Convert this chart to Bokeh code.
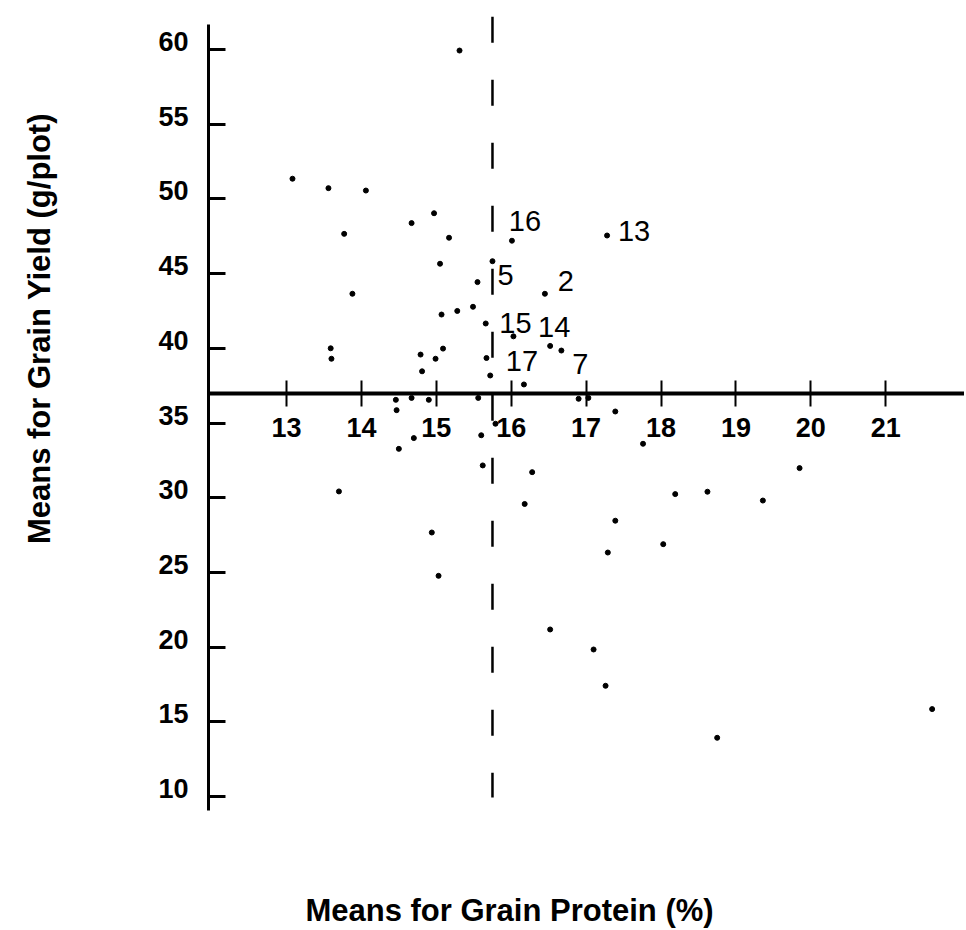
import math
from bokeh.plotting import figure
from bokeh.models import LinearAxis, FixedTicker, Range1d, Label, ColumnDataSource
from bokeh.embed import file_html
from bokeh.resources import INLINE
from bokeh.core.properties import value

# ---------------- data ----------------
protein = [15.31, 13.08, 13.56, 14.06, 14.97, 14.67, 13.77, 15.17, 16.01, 17.28,
           15.05, 15.75, 15.55, 13.88, 16.45, 15.07, 15.28, 15.49, 15.66, 16.03,
           16.52, 16.67, 13.59, 13.60, 14.79, 14.99, 15.09, 14.81, 15.67, 15.72,
           16.17, 14.46, 14.67, 14.90, 15.56, 14.47, 16.90, 17.03, 17.39, 14.70,
           14.50, 15.60, 15.79, 15.62, 16.28, 13.70, 16.18, 17.76, 19.85, 18.19,
           18.62, 19.36, 17.39, 14.94, 15.03, 18.03, 17.29, 16.52, 17.10, 17.26,
           18.75, 21.62]
grain_yield = [59.93, 51.35, 50.72, 50.56, 49.04, 48.38, 47.66, 47.40, 47.20, 47.55,
               45.66, 45.83, 44.43, 43.65, 43.65, 42.26, 42.50, 42.78, 41.66, 40.80,
               40.16, 39.85, 40.00, 39.30, 39.58, 39.30, 39.98, 38.46, 39.35, 38.18,
               37.58, 36.55, 36.68, 36.55, 36.68, 35.86, 36.62, 36.68, 35.77, 33.99,
               33.27, 34.18, 34.95, 32.16, 31.71, 30.42, 29.58, 33.61, 31.98, 30.24,
               30.40, 29.81, 28.46, 27.67, 24.77, 26.89, 26.33, 21.18, 19.84, 17.41,
               13.93, 15.85]
point_labels = ["", "", "", "", "", "", "", "", "16", "13",
                "", "5", "", "", "2", "", "", "", "", "15",
                "14", "7", "", "", "", "", "", "", "", "",
                "17", "", "", "", "", "", "", "", "", "",
                "", "", "", "", "", "", "", "", "", "",
                "", "", "", "", "", "", "", "", "", "",
                "", ""]

yield_ticks = [10, 15, 20, 25, 30, 35, 40, 45, 50, 55, 60]
protein_ticks = [13, 14, 15, 16, 17, 18, 19, 20, 21]
protein_ref = 15.75      # vertical dashed reference line
yield_ref = 37.0         # where the protein axis crosses
protein_axis_at = 11.96  # where the yield axis crosses
x_title = "Means for Grain Protein (%)"
y_title = "Means for Grain Yield (g/plot)"

# ---------------- layout / style ----------------
PX_X = 74.9            # pixels per % protein
PX_Y = 14.94           # pixels per g/plot
FRAME_W, FRAME_H = 964, 928
X_START = 13 - 286 / PX_X
Y_TOP = 60 + 49 / PX_Y
x_range = Range1d(X_START, X_START + FRAME_W / PX_X)
y_range = Range1d(Y_TOP - FRAME_H / PX_Y, Y_TOP)
LABEL_RAISE = 8 / PX_Y   # the yield tick labels sit ~8px above their ticks

# label offsets in pixels (dx, dy) by label text
label_offsets = {"16": (13, -20), "13": (27, -5), "5": (13, 14), "2": (21, -13),
                 "15": (2, -13), "14": (4, -19), "7": (19, 13), "17": (-2, -23)}

FONT = "Liberation Sans"
INK = "#000000"

p = figure(frame_width=FRAME_W, frame_height=FRAME_H, x_range=x_range, y_range=y_range,
           x_axis_type=None, y_axis_type=None, output_backend="svg",
           toolbar_location=None, min_border_left=0, min_border_right=0,
           min_border_top=0, min_border_bottom=0, background_fill_color="white")
p.outline_line_color = None
p.extra_y_ranges = {"ylabels": Range1d(y_range.start - LABEL_RAISE, y_range.end - LABEL_RAISE)}

# yield axis: line and ticks
yax = LinearAxis(fixed_location=protein_axis_at, ticker=FixedTicker(ticks=yield_ticks),
                 bounds=(9.06, 61.67),
                 major_tick_in=17, major_tick_out=0, minor_tick_in=0, minor_tick_out=0,
                 axis_line_width=3, axis_line_color=INK,
                 major_tick_line_width=3, major_tick_line_color=INK,
                 major_label_text_font_size="0px", major_label_text_alpha=0)
p.add_layout(yax, "left")

# yield axis: tick labels (drawn slightly above their ticks, as in the print)
yax_lab = LinearAxis(fixed_location=protein_axis_at, y_range_name="ylabels",
                     ticker=FixedTicker(ticks=yield_ticks),
                     axis_line_color=None, major_tick_line_color=None,
                     major_tick_in=0, major_tick_out=0, minor_tick_in=0, minor_tick_out=0,
                     major_label_standoff=20,
                     major_label_text_font=FONT, major_label_text_font_size="27px",
                     major_label_text_font_style="bold", major_label_text_color=INK)
p.add_layout(yax_lab, "left")

xax = LinearAxis(fixed_location=yield_ref, ticker=FixedTicker(ticks=protein_ticks),
                 bounds=(protein_axis_at, X_START + FRAME_W / PX_X),
                 major_tick_in=13, major_tick_out=13, minor_tick_in=0, minor_tick_out=0,
                 major_label_standoff=12, axis_line_width=4, axis_line_color=INK,
                 major_tick_line_width=2, major_tick_line_color=INK,
                 major_label_text_font=FONT, major_label_text_font_size="27px",
                 major_label_text_font_style="bold", major_label_text_color=INK)
p.add_layout(xax, "below")

# dashed reference line at mean protein
p.segment(x0=[protein_ref], y0=[62.2], x1=[protein_ref], y1=[9.93],
          line_color=INK, line_width=2.5, line_dash="26 37")

# points
p.scatter(x=protein, y=grain_yield, size=5, fill_color=INK, line_color=INK)

# point labels
lx, ly, lt, dx, dy = [], [], [], [], []
for xv, yv, t in zip(protein, grain_yield, point_labels):
    if t:
        lx.append(xv); ly.append(yv); lt.append(t)
        dx.append(label_offsets[t][0]); dy.append(label_offsets[t][1])
src = ColumnDataSource(dict(x=lx, y=ly, text=lt, dx=dx, dy=dy))
p.text(x="x", y="y", text="text", x_offset="dx", y_offset="dy", source=src,
       text_align="center", text_baseline="middle", text_font=value(FONT),
       text_font_size="29px", text_color=INK)

# axis titles (screen units, from the frame's bottom-left)
p.add_layout(Label(x=509, y=FRAME_H - 910, x_units="screen", y_units="screen",
                   text=x_title, text_align="center", text_baseline="middle",
                   text_font=FONT, text_font_size="31px", text_font_style="bold",
                   text_color=INK))
p.add_layout(Label(x=39, y=FRAME_H - 328, x_units="screen", y_units="screen",
                   text=y_title, angle=math.pi / 2, text_align="center",
                   text_baseline="middle", text_font=FONT, text_font_size="31px",
                   text_font_style="bold", text_color=INK))

open("out.html", "w").write(file_html(p, INLINE))
